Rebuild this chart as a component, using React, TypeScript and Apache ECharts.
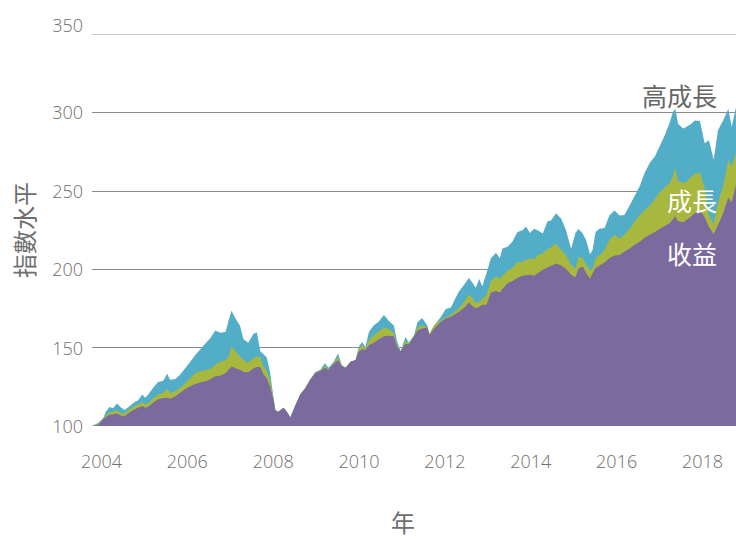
import React, { useEffect, useRef } from "react";
import * as echarts from "echarts";

const years = [
  2003.78, 2003.92, 2004.04, 2004.11, 2004.19, 2004.27, 2004.36, 2004.46, 2004.54, 2004.66,
  2004.78, 2004.85, 2004.95, 2005.02, 2005.09, 2005.2, 2005.32, 2005.44, 2005.53, 2005.6,
  2005.72, 2005.83, 2005.95, 2006.07, 2006.18, 2006.3, 2006.42, 2006.54, 2006.65, 2006.77,
  2006.89, 2006.96, 2007.03, 2007.12, 2007.23, 2007.31, 2007.42, 2007.54, 2007.62, 2007.7,
  2007.77, 2007.85, 2007.93, 2008.01, 2008.05, 2008.12, 2008.24, 2008.31, 2008.4, 2008.51,
  2008.63, 2008.75, 2008.86, 2008.98, 2009.1, 2009.2, 2009.29, 2009.41, 2009.51, 2009.6,
  2009.69, 2009.8, 2009.92, 2009.99, 2010.07, 2010.15, 2010.23, 2010.34, 2010.46, 2010.58,
  2010.69, 2010.81, 2010.89, 2010.97, 2011.08, 2011.16, 2011.28, 2011.36, 2011.47, 2011.59,
  2011.64, 2011.75, 2011.9, 2012.02, 2012.14, 2012.25, 2012.33, 2012.45, 2012.56, 2012.64,
  2012.72, 2012.8, 2012.87, 2012.97, 2013.07, 2013.19, 2013.28, 2013.34, 2013.46, 2013.57,
  2013.69, 2013.81, 2013.89, 2013.98, 2014.08, 2014.16, 2014.28, 2014.39, 2014.47, 2014.59,
  2014.71, 2014.82, 2014.94, 2015.04, 2015.11, 2015.21, 2015.29, 2015.38, 2015.44, 2015.51,
  2015.6, 2015.72, 2015.83, 2015.95, 2016.07, 2016.18, 2016.3, 2016.42, 2016.54, 2016.65,
  2016.77, 2016.89, 2017.0, 2017.12, 2017.24, 2017.31, 2017.37, 2017.43, 2017.55, 2017.63,
  2017.74, 2017.82, 2017.94, 2018.05, 2018.15, 2018.26, 2018.36, 2018.48, 2018.6, 2018.68,
  2018.78,
];

const highGrowth = [
  100, 101.9, 105.0, 109.4, 112.1, 111.3, 114.4, 111.7, 110.2, 112.8,
  115.5, 116.3, 120.1, 118.0, 120.1, 124.3, 128.1, 128.9, 133.3, 129.5,
  130.0, 132.7, 136.9, 141.0, 145.2, 148.8, 152.6, 156.1, 160.9, 159.5,
  159.9, 167.2, 173.5, 168.7, 163.8, 155.3, 153.1, 158.9, 159.7, 147.7,
  145.9, 143.7, 133.9, 117.6, 110.0, 109.1, 111.7, 109.4, 105.5, 112.8,
  120.1, 124.3, 129.5, 134.4, 135.8, 140.0, 137.2, 141.0, 146.3, 138.9,
  137.2, 141.0, 142.1, 150.4, 153.6, 150.4, 159.9, 164.1, 166.6, 170.8,
  167.2, 164.1, 153.6, 147.7, 156.7, 153.2, 157.8, 166.1, 168.8, 164.1,
  158.9, 164.1, 169.3, 174.6, 175.6, 181.8, 186.0, 190.3, 194.4, 191.3,
  188.1, 193.8, 189.2, 197.5, 207.0, 210.5, 207.0, 213.2, 214.3, 217.5,
  223.7, 224.8, 227.3, 223.1, 225.8, 224.8, 222.7, 230.6, 231.1, 235.7,
  232.1, 224.8, 213.1, 223.1, 225.6, 222.7, 218.5, 209.5, 212.2, 223.7,
  225.8, 226.2, 234.2, 237.4, 234.2, 234.6, 240.5, 246.8, 253.1, 261.4,
  267.7, 271.9, 278.2, 285.5, 293.9, 300.2, 302.2, 292.8, 289.7, 290.8,
  292.8, 294.9, 294.5, 280.3, 282.3, 269.8, 288.6, 294.9, 302.2, 290.8,
  303.3,
];

const growth = [
  100, 101.3, 105.0, 106.9, 108.8, 109.2, 110.0, 108.0, 108.2, 111.0,
  112.8, 113.8, 115.1, 113.8, 114.4, 117.6, 120.1, 121.2, 123.7, 121.2,
  122.2, 124.2, 127.3, 130.6, 133.7, 134.9, 135.5, 136.4, 139.3, 141.0,
  142.1, 144.0, 150.9, 147.7, 144.3, 142.1, 140.2, 143.3, 144.2, 144.0,
  137.9, 135.2, 129.5, 117.0, 110.0, 109.1, 111.7, 109.4, 105.5, 112.8,
  120.1, 124.3, 129.5, 134.0, 135.5, 138.3, 136.4, 140.2, 144.0, 138.3,
  137.2, 141.0, 142.1, 149.0, 151.5, 149.6, 154.6, 157.8, 160.3, 162.8,
  161.9, 159.4, 151.5, 147.7, 154.6, 152.6, 157.5, 163.0, 164.1, 163.0,
  158.9, 164.4, 167.5, 169.4, 171.0, 173.5, 175.4, 179.1, 184.0, 181.8,
  178.5, 179.1, 181.0, 183.5, 192.3, 195.5, 193.8, 195.8, 199.2, 200.7,
  204.6, 204.6, 206.1, 206.8, 206.5, 209.1, 210.1, 212.7, 214.0, 216.4,
  212.2, 209.1, 202.8, 200.5, 208.0, 207.0, 203.0, 199.2, 200.5, 207.0,
  208.7, 212.6, 218.7, 221.9, 219.5, 221.9, 225.8, 230.6, 234.4, 237.6,
  240.5, 244.8, 248.9, 252.0, 255.1, 259.5, 264.6, 256.2, 255.1, 255.8,
  258.9, 260.8, 261.7, 252.0, 234.4, 228.9, 242.6, 253.1, 269.8, 265.6,
  274.0,
];

const income = [
  100, 100.6, 104.4, 105.7, 107.2, 107.5, 108.0, 106.6, 106.3, 108.8,
  110.7, 111.6, 112.8, 111.7, 112.2, 114.8, 117.0, 117.9, 118.0, 117.4,
  119.0, 121.0, 123.6, 125.4, 126.8, 127.8, 128.6, 129.8, 131.7, 132.0,
  133.7, 135.8, 138.0, 136.9, 135.8, 134.5, 134.2, 136.7, 137.7, 137.7,
  133.1, 130.5, 125.1, 116.3, 110.0, 109.1, 111.7, 109.4, 105.5, 112.8,
  120.1, 124.3, 129.5, 133.7, 135.2, 137.1, 135.8, 139.6, 142.1, 137.9,
  137.2, 141.0, 142.1, 147.3, 149.0, 148.4, 151.5, 153.1, 155.3, 157.2,
  157.5, 157.2, 150.4, 147.7, 152.6, 151.9, 157.2, 160.9, 162.2, 162.8,
  157.8, 162.2, 166.3, 168.5, 169.7, 171.4, 172.9, 175.4, 178.7, 176.6,
  175.1, 176.0, 177.3, 177.3, 185.0, 186.1, 185.1, 187.3, 191.1, 192.3,
  194.5, 195.8, 196.1, 196.5, 195.8, 197.4, 199.6, 201.1, 202.1, 203.6,
  202.4, 200.2, 196.4, 194.8, 200.5, 201.8, 197.5, 193.9, 197.4, 200.7,
  202.4, 204.3, 207.0, 208.7, 209.1, 211.2, 213.2, 215.6, 217.5, 220.0,
  221.9, 223.7, 225.6, 227.5, 229.4, 231.9, 233.8, 230.6, 230.0, 231.3,
  233.8, 235.7, 237.6, 233.2, 226.9, 222.5, 228.1, 235.7, 245.7, 242.6,
  253.9,
];

const seriesNames = ["高成長", "成長", "收益"];
const seriesColors = ["#52adc9", "#a8b83f", "#7b6a9e"];
const yTicks = [100, 150, 200, 250, 300, 350];

const FONT = "'Open Sans', 'Noto Sans CJK TC', sans-serif";
const LABEL_COLOR = "#6e6e6e";

function pairs(vals: number[]) {
  return years.map((y, i) => [y, vals[i]]);
}

export default function App() {
  const ref = useRef<HTMLDivElement>(null);
  useEffect(() => {
    if (!ref.current) return;
    document.body.style.margin = "0";
    const chart = echarts.init(ref.current, null, { renderer: "svg" });
    const datasets = [highGrowth, growth, income];
    const topTick = yTicks[yTicks.length - 1];
    chart.setOption({
      animation: false,
      textStyle: { fontFamily: FONT },
      grid: { left: 92, right: 0, top: 34, height: 398, containLabel: false },
      xAxis: {
        type: "value",
        min: years[0],
        max: years[years.length - 1],
        minInterval: 2,
        maxInterval: 2,
        splitNumber: 7,
        axisLine: { show: false },
        axisTick: { show: false },
        splitLine: { show: false },
        axisLabel: {
          showMinLabel: false,
          showMaxLabel: false,
          color: LABEL_COLOR,
          fontSize: 18,
          fontWeight: 300,
          margin: 26,
          fontFamily: FONT,
          formatter: (v: number) => (Math.abs(v - Math.round(v)) < 1e-6 ? String(Math.round(v)) : ""),
        },
        name: "年",
        nameLocation: "middle",
        nameGap: 84,
        nameTextStyle: { color: LABEL_COLOR, fontSize: 24, padding: [0, 22, 0, 0], fontFamily: FONT },
      },
      yAxis: {
        type: "value",
        min: yTicks[0],
        max: topTick,
        interval: 50,
        axisLine: { show: false },
        axisTick: { show: false },
        axisLabel: {
          color: LABEL_COLOR,
          fontSize: 18,
          fontWeight: 300,
          margin: 9,
          fontFamily: FONT,
          formatter: (v: number) => (v === topTick ? "{up|" + v + "}" : String(v)),
          rich: {
            up: {
              color: LABEL_COLOR,
              fontSize: 18,
              fontWeight: 300,
              fontFamily: FONT,
              padding: [0, 0, 18, 0],
            },
          },
        },
        splitLine: {
          show: true,
          lineStyle: {
            color: ["transparent", "#8a8a8a", "#8a8a8a", "#8a8a8a", "#8a8a8a", "#c9c9c9"],
            width: 1.2,
          },
        },
        name: "指數水平",
        nameLocation: "middle",
        nameRotate: 90,
        nameGap: 56,
        nameTextStyle: { color: LABEL_COLOR, fontSize: 24, fontFamily: FONT },
      },
      series: datasets.map((d, i) => ({
        name: seriesNames[i],
        type: "line",
        data: pairs(d),
        symbol: "none",
        smooth: false,
        lineStyle: { width: 0 },
        areaStyle: { color: seriesColors[i], opacity: 1, origin: "start" },
        itemStyle: { color: seriesColors[i] },
        z: 2 + i,
      })),
      graphic: [
        {
          type: "text",
          right: 19,
          top: 83,
          style: { text: seriesNames[0], fill: "#666666", fontSize: 25, fontFamily: FONT },
          z: 100,
        },
        {
          type: "text",
          right: 19,
          top: 188,
          style: { text: seriesNames[1], fill: "#ffffff", fontSize: 25, fontFamily: FONT },
          z: 100,
        },
        {
          type: "text",
          right: 19,
          top: 241,
          style: { text: seriesNames[2], fill: "#ffffff", fontSize: 25, fontFamily: FONT },
          z: 100,
        },
      ],
    });
    return () => chart.dispose();
  }, []);
  return <div ref={ref} style={{ width: 736, height: 539 }} />;
}
